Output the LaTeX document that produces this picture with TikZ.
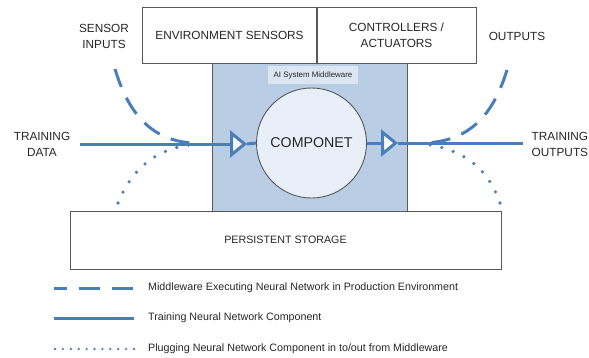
\documentclass[tikz,border=0pt]{standalone}
\usepackage{fontspec}
\setmainfont{Liberation Sans}
\usetikzlibrary{arrows.meta}
\definecolor{lineblue}{HTML}{4A7EBB}
\definecolor{mwfill}{HTML}{B9CDE5}
\definecolor{circfill}{HTML}{E9EFF8}
\definecolor{tagfill}{HTML}{DCE6F2}
\definecolor{edge}{HTML}{595959}
\definecolor{txt}{HTML}{262626}
\tikzset{
  boxed/.style={draw=edge, line width=0.9pt, fill=white, inner sep=0pt},
  lbl/.style={text=txt, font=\fontsize{11.8}{16}\selectfont, align=center, inner sep=0pt},
  leg/.style={text=txt, font=\fontsize{10.7}{13}\selectfont, anchor=west, inner sep=0pt},
  solidln/.style={draw=lineblue, line width=3pt},
  dashln/.style={draw=lineblue, line width=3pt, dash pattern=on 19pt off 12pt},
  dotln/.style={draw=lineblue, line width=3.6pt, line cap=round, dash pattern=on 0pt off 12pt},
  opentip/.style={-{Triangle[open, fill=white, length=17pt, width=27pt]}},
}
\begin{document}
\begin{tikzpicture}[x=1pt,y=-1pt]
\useasboundingbox (0,0) rectangle (589,357);
% middleware
\node[draw=edge, line width=0.9pt, fill=mwfill, minimum width=195pt, minimum height=148pt, inner sep=0pt] (mw) at (309.5,137) {};
\node[fill=tagfill, minimum width=90pt, minimum height=18pt, inner sep=0pt, font=\fontsize{7.9}{9}\selectfont, text=txt] (tag) at (313,75) {AI System Middleware};
% top boxes
\node[boxed, minimum width=174pt, minimum height=56pt] (env) at (229.5,35) {};
\node[lbl] (envt) at (229.5,35) {ENVIRONMENT SENSORS};
\node[boxed, minimum width=159pt, minimum height=56pt] (ctl) at (396.5,35) {};
\node[lbl] (ctlt) at (396.5,35) {CONTROLLERS /\\ACTUATORS};
% storage
\node[boxed, minimum width=431pt, minimum height=58pt] (store) at (285.5,240) {};
\node[lbl, font=\fontsize{10.7}{13}\selectfont] (storet) at (285.5,240) {PERSISTENT STORAGE};
% component
\node[circle, draw=edge, line width=0.9pt, fill=circfill, minimum size=110pt, inner sep=0pt] (comp) at (311.5,143) {};
\node[lbl, font=\fontsize{14.2}{16}\selectfont] (compt) at (311.5,143) {COMPONET};
% outside labels
\node[lbl] (sensin) at (104,36) {SENSOR\\INPUTS};
\node[lbl] (tdata) at (42,144) {TRAINING\\DATA};
\node[lbl] (outs) at (517,36) {OUTPUTS};
\node[lbl, anchor=west, align=left] (tout) at (531.5,144) {TRAINING\\OUTPUTS};
% coordinates
\coordinate (lstart) at (80,144);
\coordinate (ltip) at (247,144);
\coordinate (rtip) at (398,143);
\coordinate (rend) at (523,143);
\coordinate (ldashs) at (115,69);
\coordinate (ldashe) at (192,143);
\coordinate (ldots) at (118,203);
\coordinate (ldote) at (200,144);
\coordinate (rdashs) at (507,70);
\coordinate (rdashe) at (425,143);
\coordinate (rdots) at (500,203);
\coordinate (rdote) at (410,143);
% curves
\draw[dashln] (ldashs) .. controls (128,112) and (150,140) .. (ldashe);
\draw[dotln] (ldots) .. controls (132,168) and (158,146) .. (ldote);
\draw[dashln] (rdashs) .. controls (494,112) and (472,141) .. (rdashe);
\draw[dotln] (rdots) .. controls (488,168) and (462,145) .. (rdote);
% training lines
\draw[solidln, opentip] (lstart) -- (ltip);
\draw[solidln] (ltip) -- (comp.west);
\draw[solidln, opentip] (comp.east) -- (rtip);
\draw[solidln] (rtip) -- (rend);
% legend
\coordinate (l1a) at (54,288); \coordinate (l1b) at (134,288);
\coordinate (l2a) at (54,318); \coordinate (l2b) at (134,318);
\coordinate (l3a) at (55,349); \coordinate (l3b) at (134,349);
\draw[dashln, dash pattern=on 21pt off 12pt, dash phase=8pt] (l1a) -- (l1b);
\draw[solidln] (l2a) -- (l2b);
\draw[dotln, line width=2.6pt, dash pattern=on 0pt off 7.9pt] (l3a) -- (l3b);
\node[leg] (t1) at (148,288) {Middleware Executing Neural Network in Production Environment};
\node[leg] (t2) at (148,318) {Training Neural Network Component};
\node[leg] (t3) at (148,349) {Plugging Neural Network Component in to/out from Middleware};
\end{tikzpicture}
\end{document}
